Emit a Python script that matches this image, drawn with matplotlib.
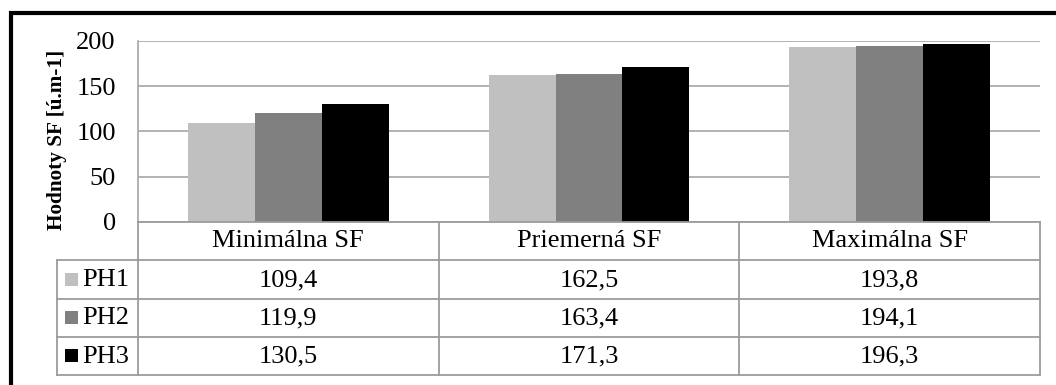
import matplotlib
matplotlib.use("Agg")
import matplotlib.pyplot as plt
from matplotlib.patches import Rectangle

# SF values per category for the three series
categories = ["Minimálna SF", "Priemerná SF", "Maximálna SF"]
series = ["PH1", "PH2", "PH3"]
ph1 = [109.4, 162.5, 193.8]
ph2 = [119.9, 163.4, 194.1]
ph3 = [130.5, 171.3, 196.3]
colors = ["#c0c0c0", "#808080", "#000000"]
yticks = [0, 50, 100, 150, 200]

W, H = 1056, 385
FONT = "Liberation Serif"
GRID = "#a6a6a6"
FS = 19


def fx(px):
    return px / W


def fy(py):
    return 1 - py / H


fig = plt.figure(figsize=(W / 100, H / 100), dpi=100)

# plot area: x 138..1040, y 41..222 (pixels)
ax = fig.add_axes([fx(138), fy(222), fx(1040 - 138), (222 - 41) / H])
bw = 0.2222
for i, (vals, c) in enumerate(zip([ph1, ph2, ph3], colors)):
    xs = [k + (i - 1) * bw for k in range(len(categories))]
    ax.bar(xs, vals, width=bw, color=c, edgecolor="none", zorder=2)

ax.set_xlim(-0.5, len(categories) - 0.5)
ax.set_ylim(0, 200)
ax.set_yticks(yticks)
ax.set_yticklabels([str(v) for v in yticks], fontfamily=FONT, fontsize=FS)
ax.tick_params(axis="y", length=0, pad=16)
ax.set_xticks([])
ax.yaxis.grid(True, color=GRID, lw=1.2, zorder=0)
for side in ("top", "right", "bottom"):
    ax.spines[side].set_visible(False)
ax.spines["left"].set_color(GRID)
ax.spines["left"].set_linewidth(1.2)

fig.text(fx(57), fy(140), "Hodnoty SF [ú.m-1]", rotation=90, ha="center",
         va="center", fontfamily=FONT, fontsize=15.3, fontweight="bold")

# data table below the bars, sharing the category positions
tax = fig.add_axes([fx(138), fy(375), fx(1040 - 138), (375 - 222) / H], sharex=ax)
tax.set_ylim(4, 0)
tax.axis("off")
cw = 902 / 3  # pixels per category
x0 = -0.5 - 81 / cw
xr = len(categories) - 0.5
lk = dict(color="#9c9c9c", lw=1.3, clip_on=False)
tax.plot([-0.5, xr], [0, 0], **lk)
for r in range(1, 5):
    tax.plot([x0, xr], [r, r], **lk)
tax.plot([x0, x0], [1, 4], **lk)
for k in range(len(categories) + 1):
    tax.plot([k - 0.5, k - 0.5], [0, 4], **lk)

for k, cat in enumerate(categories):
    tax.text(k, 0.5, cat, ha="center", va="center", fontfamily=FONT, fontsize=FS)
sq_w, sq_h = 13 / cw, 13 / 38.5
for r, (name, vals, c) in enumerate(zip(series, [ph1, ph2, ph3], colors), start=1):
    tax.add_patch(Rectangle((-0.5 - 73 / cw, r + 0.5 - sq_h / 2), sq_w, sq_h,
                            facecolor=c, edgecolor="none", clip_on=False))
    tax.text(-0.5 - 56 / cw, r + 0.52, name, ha="left", va="center",
             fontfamily=FONT, fontsize=FS, clip_on=False)
    for k, v in enumerate(vals):
        tax.text(k, r + 0.52, f"{v:.1f}".replace(".", ","), ha="center",
                 va="center", fontfamily=FONT, fontsize=FS)

# outer frame
fig.add_artist(Rectangle((fx(11), fy(H + 20)), 1.2, fy(13) - fy(H + 20),
                         transform=fig.transFigure, fill=False,
                         edgecolor="black", lw=3.0, clip_on=False))

fig.savefig("out.png", dpi=100)
